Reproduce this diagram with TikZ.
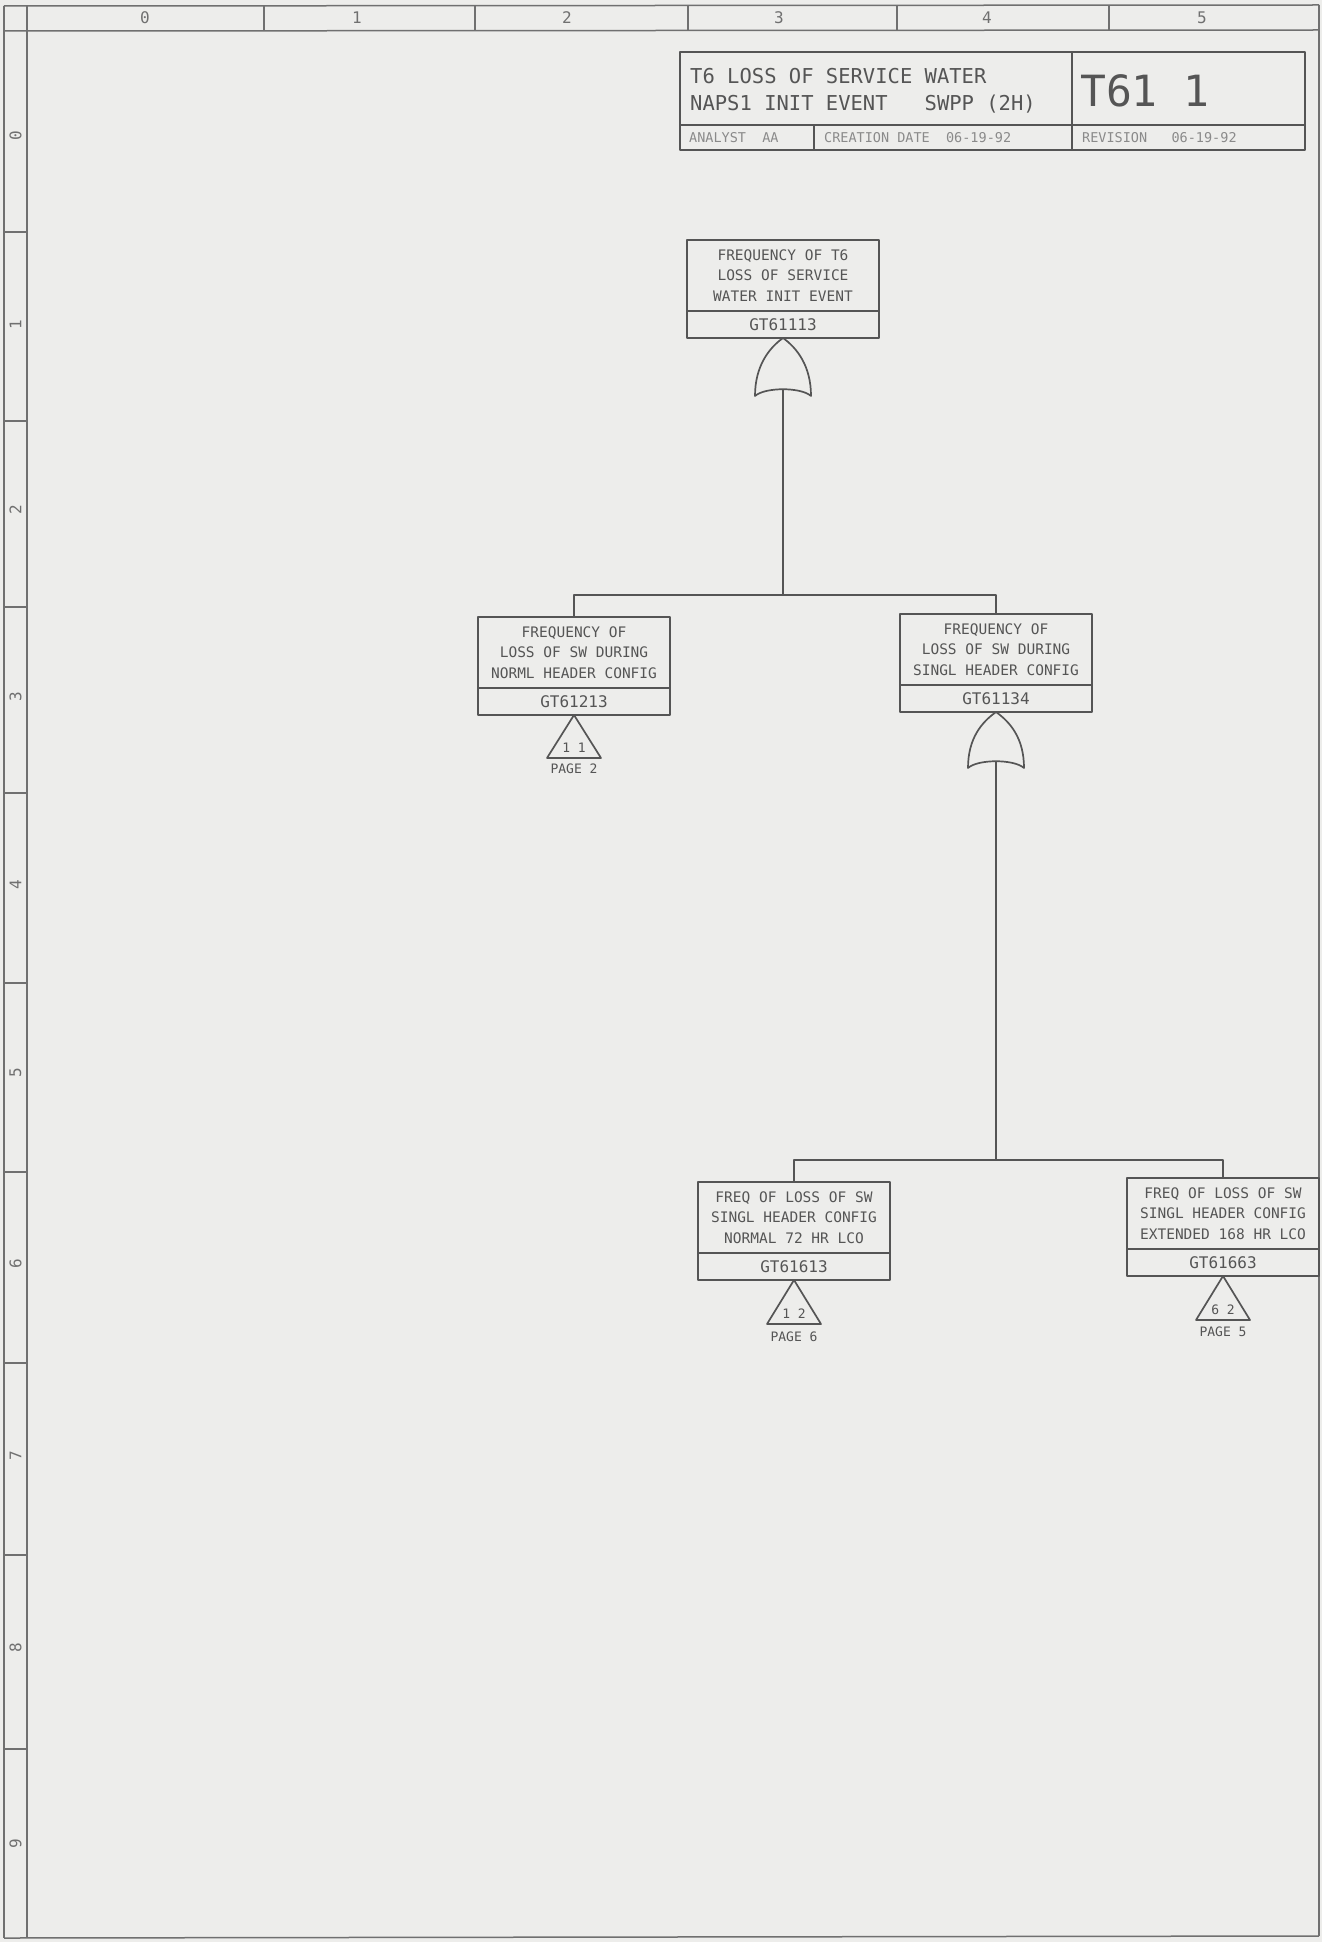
\documentclass[tikz,border=0pt]{standalone}
\usepackage{fontspec}
\setmainfont{DejaVu Sans Mono}
\usetikzlibrary{calc}
\definecolor{paper}{HTML}{EDEDEB}
\definecolor{ink}{HTML}{555555}
\definecolor{frameink}{HTML}{707070}
\definecolor{faint}{HTML}{8A8A8A}
\begin{document}
\begin{tikzpicture}[x=1pt,y=-1pt,line join=round,
  frameline/.style={draw=frameink,line width=1.5pt},
  wire/.style={draw=ink,line width=1.7pt},
  desc/.style={draw=ink,line width=1.8pt,minimum width=192pt,minimum height=71pt,
    inner sep=0pt,outer sep=0pt,align=center,text=ink,anchor=north,
    font=\fontsize{14.5}{20.5}\selectfont},
  idbox/.style={draw=ink,line width=1.8pt,minimum width=192pt,minimum height=27pt,
    inner sep=0pt,outer sep=0pt,text=ink,anchor=north,
    font=\fontsize{16}{18}\selectfont},
  trilbl/.style={inner sep=0pt,text=ink,font=\fontsize{13}{14}\selectfont},
  collbl/.style={inner sep=0pt,text=frameink,font=\fontsize{16}{18}\selectfont},
  rowlbl/.style={inner sep=0pt,text=frameink,rotate=90,font=\fontsize{16}{18}\selectfont},
  tbtext/.style={inner sep=0pt,text=ink,anchor=west},
  tbsmall/.style={inner sep=0pt,text=faint,anchor=west,font=\fontsize{13.5}{15}\selectfont}]
\fill[paper] (0,0) rectangle (1322,1942);
\useasboundingbox (0,0) rectangle (1322,1942);

% ---- drawing frame ----
\draw[frameline] (4,6) -- (1319,5);
\draw[frameline] (4,31) -- (1319,30);
\draw[frameline] (4,6) -- (4,1938);
\draw[frameline] (27,6) -- (27,1938);
\draw[frameline] (1319,5) -- (1319,1936);
\draw[frameline] (4,1938) -- (1319,1936);
\foreach \cx in {264,475,688,897,1109} \draw[frameline] (\cx,6) -- (\cx,31);
\foreach \ry in {232,421,607,793,983,1172,1363,1555,1749} \draw[frameline] (4,\ry) -- (27,\ry);
\node[collbl] (c0) at (145,18) {0};
\node[collbl] (c1) at (357,18) {1};
\node[collbl] (c2) at (567,18) {2};
\node[collbl] (c3) at (779,18) {3};
\node[collbl] (c4) at (987,18) {4};
\node[collbl] (c5) at (1202,18) {5};
\node[rowlbl] (r0) at (15.5,136) {0};
\node[rowlbl] (r1) at (15.5,325) {1};
\node[rowlbl] (r2) at (15.5,510) {2};
\node[rowlbl] (r3) at (15.5,697) {3};
\node[rowlbl] (r4) at (15.5,885) {4};
\node[rowlbl] (r5) at (15.5,1073) {5};
\node[rowlbl] (r6) at (15.5,1264) {6};
\node[rowlbl] (r7) at (15.5,1456) {7};
\node[rowlbl] (r8) at (15.5,1648) {8};
\node[rowlbl] (r9) at (15.5,1844) {9};

% ---- title block ----
\draw[wire] (680,52) rectangle (1305,150);
\draw[wire] (680,125) -- (1305,125);
\draw[wire] (1072,52) -- (1072,150);
\draw[wire] (814,125) -- (814,150);
\node[tbtext,font=\fontsize{20.5}{22}\selectfont] (tb1) at (690,76) {T6 LOSS OF SERVICE WATER};
\node[tbtext,font=\fontsize{20.5}{22}\selectfont] (tb2) at (690,104) {NAPS1 INIT EVENT\ \ \ SWPP (2H)};
\node[tbtext,font=\fontsize{43}{45}\selectfont] (tb3) at (1080,91) {T61 1};
\node[tbsmall] (tb4) at (689,138) {ANALYST\ \ AA};
\node[tbsmall] (tb5) at (824,138) {CREATION DATE\ \ 06-19-92};
\node[tbsmall] (tb6) at (1082,138) {REVISION\ \ \ 06-19-92};

% ---- events ----
\node[desc] (n1) at (783,240) {FREQUENCY OF T6\\LOSS OF SERVICE\\WATER INIT EVENT};
\node[idbox] (n1id) at (n1.south) {GT61113};

\node[desc] (n2) at (574,617) {FREQUENCY OF\\LOSS OF SW DURING\\NORML HEADER CONFIG};
\node[idbox] (n2id) at (n2.south) {GT61213};

\node[desc] (n3) at (996,614) {FREQUENCY OF\\LOSS OF SW DURING\\SINGL HEADER CONFIG};
\node[idbox] (n3id) at (n3.south) {GT61134};

\node[desc] (n4) at (794,1182) {FREQ OF LOSS OF SW\\SINGL HEADER CONFIG\\NORMAL 72 HR LCO};
\node[idbox] (n4id) at (n4.south) {GT61613};

\node[desc] (n5) at (1223,1178) {FREQ OF LOSS OF SW\\SINGL HEADER CONFIG\\EXTENDED 168 HR LCO};
\node[idbox] (n5id) at (n5.south) {GT61663};

% ---- OR gates ----
\coordinate (g1) at (n1id.south);
\draw[wire] (g1) .. controls +(-14,10) and +(0,-30) .. ++(-28,58)
  .. controls +(10,-9) and +(-10,-9) .. ++(56,0)
  .. controls +(0,-30) and +(14,10) .. (g1);
\coordinate (g1in) at ($(g1)+(0,51)$);

\coordinate (g2) at (n3id.south);
\draw[wire] (g2) .. controls +(-14,10) and +(0,-30) .. ++(-28,56)
  .. controls +(10,-9) and +(-10,-9) .. ++(56,0)
  .. controls +(0,-30) and +(14,10) .. (g2);
\coordinate (g2in) at ($(g2)+(0,49)$);

% ---- connectors ----
\coordinate (j1) at (g1in |- 0,595);
\draw[wire] (g1in) -- (j1);
\draw[wire] (j1) -| (n2.north);
\draw[wire] (j1) -| (n3.north);

\coordinate (j2) at (g2in |- 0,1160);
\draw[wire] (g2in) -- (j2);
\draw[wire] (j2) -| (n4.north);
\draw[wire] (j2) -| (n5.north);

% ---- transfer triangles ----
\draw[wire] (n2id.south) -- ++(-27,43) -- ++(54,0) -- cycle;
\node[trilbl] (t2) at ($(n2id.south)+(0,33)$) {1 1};
\node[trilbl] (p2) at ($(n2id.south)+(0,54)$) {PAGE 2};

\draw[wire] (n4id.south) -- ++(-27,44) -- ++(54,0) -- cycle;
\node[trilbl] (t4) at ($(n4id.south)+(0,34)$) {1 2};
\node[trilbl] (p4) at ($(n4id.south)+(0,57)$) {PAGE 6};

\draw[wire] (n5id.south) -- ++(-27,44) -- ++(54,0) -- cycle;
\node[trilbl] (t5) at ($(n5id.south)+(0,34)$) {6 2};
\node[trilbl] (p5) at ($(n5id.south)+(0,56)$) {PAGE 5};
\end{tikzpicture}
\end{document}
